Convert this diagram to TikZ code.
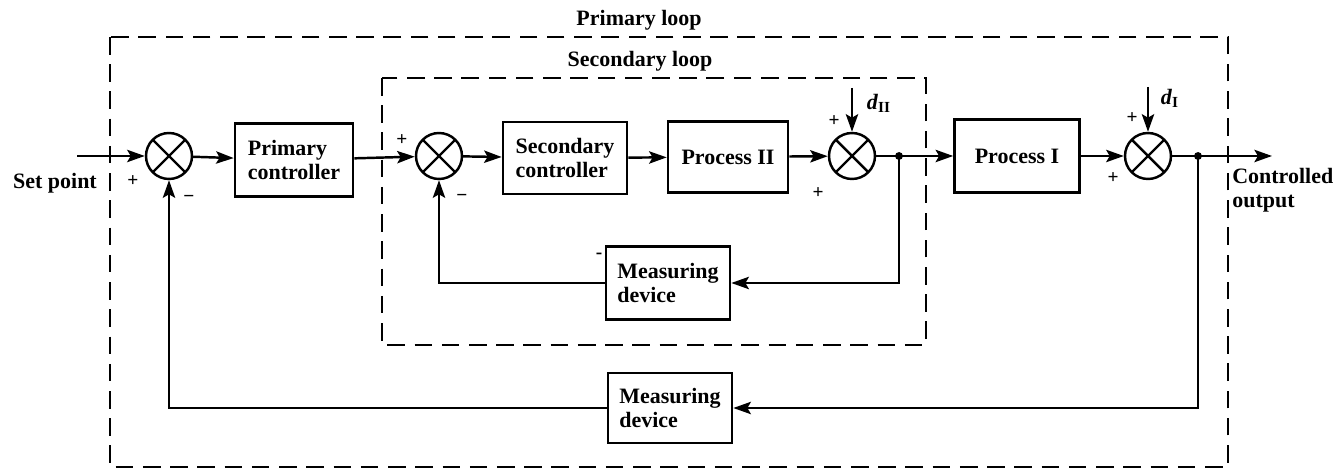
\documentclass[tikz,border=0pt]{standalone}
\usepackage{fontspec}
\setmainfont{Liberation Serif}
\usetikzlibrary{arrows.meta}
\begin{document}
\begin{tikzpicture}[x=0.02cm,y=-0.02cm,
  font=\fontsize{12.5}{13.5}\selectfont\bfseries,
  blk/.style={draw,line width=1.5pt,align=left,inner sep=0pt},
  sumj/.style={circle,draw,line width=1.4pt,minimum size=0.92cm,inner sep=0pt,
    path picture={\draw[line width=1.4pt]
      (path picture bounding box.north west)--(path picture bounding box.south east)
      (path picture bounding box.north east)--(path picture bounding box.south west);}},
  sig/.style={line width=1.4pt,-{Stealth[length=10pt,width=7pt,inset=2pt]}},
  ln/.style={line width=1.4pt},
  loopbox/.style={line width=1.1pt,dash pattern=on 10pt off 5.5pt},
  sgn/.style={font=\fontsize{11}{11}\selectfont\bfseries,inner sep=0pt},
  jdot/.style={circle,fill,minimum size=4.5pt,inner sep=0pt}
]
\useasboundingbox (0,0) rectangle (1343,472);

% loops
\draw[loopbox] (110,37) rectangle (1228,467);
\draw[loopbox] (382,78) rectangle (926,345);
\node (lp1) at (639,20) {Primary loop};
\node (lp2) at (640,61) {Secondary loop};

% blocks
\node[sumj] (s1) at (169,156) {};
\node[blk,minimum width=2.36cm,minimum height=1.46cm] (pc) at (294,160) {Primary\\controller};
\node[sumj] (s2) at (439,156) {};
\node[blk,minimum width=2.48cm,minimum height=1.44cm] (sc) at (565,158) {Secondary\\controller};
\node[blk,minimum width=2.40cm,minimum height=1.42cm] (p2) at (728,157) {Process II};
\node[sumj] (s3) at (852,156) {};
\node[blk,minimum width=2.50cm,minimum height=1.46cm] (p1) at (1017,156) {Process I};
\node[sumj] (s4) at (1148,156) {};
\node[blk,minimum width=2.48cm,minimum height=1.46cm] (md2) at (668,283) {Measuring\\device};
\node[blk,minimum width=2.48cm,minimum height=1.40cm] (md1) at (670,408) {Measuring\\device};

% inputs/outputs
\coordinate (in) at (77,156);
\node (sp) at (55,183) {Set point};
\coordinate (out) at (1272,156);
\node[align=left,anchor=north west,inner sep=0pt] (co) at (1232,168) {Controlled\\output};
\coordinate (d2top) at (852,88);
\coordinate (d1top) at (1148,87);
\node (d2l) at (879,103) {\textit{d}\textsubscript{II}};
\node (d1l) at (1170,98) {\textit{d}\textsubscript{I}};
\coordinate (j2) at (899,156);
\coordinate (j3) at (1198,156);

% forward path
\draw[sig] (in) -- (s1);
\draw[sig] (s1) -- (pc);
\draw[sig] (pc) -- (s2);
\draw[sig] (s2) -- (sc);
\draw[sig] (sc) -- (p2);
\draw[sig] (p2) -- (s3);
\draw[ln] (s3) -- (j2);
\draw[sig] (j2) -- (p1);
\draw[sig] (p1) -- (s4);
\draw[ln] (s4) -- (j3);
\draw[sig] (j3) -- (out);
\draw[sig] (d2top) -- (s3);
\draw[sig] (d1top) -- (s4);

% feedback
\draw[sig] (j2) |- (md2);
\draw[sig] (md2) -| (s2);
\draw[sig] (j3) |- (md1);
\draw[sig] (md1) -| (s1);
\node[jdot] (dj2) at (j2) {};
\node[jdot] (dj3) at (j3) {};

% signs
\node[sgn] (a1) at (133,181) {+};
\node[sgn] (a2) at (189,199) {−};
\node[sgn] (a3) at (402,140) {+};
\node[sgn] (a4) at (462,198) {−};
\node[sgn] (a5) at (834,121) {+};
\node[sgn] (a6) at (818,193) {+};
\node[sgn] (a7) at (1132,118) {+};
\node[sgn] (a8) at (1113,178) {+};
\node[sgn] (a9) at (599,256) {-};
\end{tikzpicture}
\end{document}
